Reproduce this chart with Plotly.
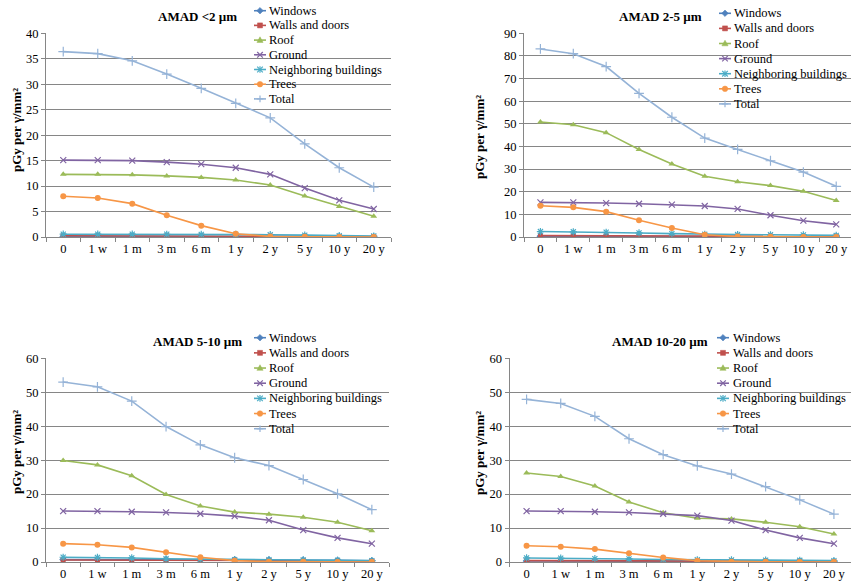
import plotly.graph_objects as go

# ---------------- data ----------------
categories = ["0", "1 w", "1 m", "3 m", "6 m", "1 y", "2 y", "5 y", "10 y", "20 y"]
series_names = ["Windows", "Walls and doors", "Roof", "Ground",
                "Neighboring buildings", "Trees", "Total"]
panel_titles = ["AMAD &lt;2 µm", "AMAD 2-5 µm", "AMAD 5-10 µm", "AMAD 10-20 µm"]
y_ticks_p1 = [0, 5, 10, 15, 20, 25, 30, 35, 40]
y_ticks_p2 = [0, 10, 20, 30, 40, 50, 60, 70, 80, 90]
y_ticks_p34 = [0, 10, 20, 30, 40, 50, 60]

# AMAD <2 um
p1_windows = [0.12, 0.12, 0.12, 0.11, 0.11, 0.10, 0.09, 0.07, 0.05, 0.03]
p1_walls = [0.25, 0.25, 0.25, 0.24, 0.23, 0.22, 0.20, 0.16, 0.12, 0.08]
p1_roof = [12.3, 12.3, 12.2, 12.0, 11.7, 11.2, 10.2, 8.05, 6.0, 4.06]
p1_ground = [15.1, 15.1, 15.0, 14.7, 14.3, 13.6, 12.3, 9.6, 7.2, 5.5]
p1_neigh = [0.55, 0.55, 0.55, 0.54, 0.52, 0.50, 0.45, 0.36, 0.27, 0.20]
p1_trees = [8.0, 7.66, 6.55, 4.26, 2.23, 0.65, 0.10, 0.05, 0.02, 0.01]
p1_total = [36.4, 36.0, 34.6, 32.0, 29.2, 26.25, 23.4, 18.3, 13.6, 9.8]

# AMAD 2-5 um
p2_windows = [0.35, 0.35, 0.34, 0.33, 0.32, 0.30, 0.28, 0.24, 0.20, 0.15]
p2_walls = [0.6, 0.6, 0.6, 0.58, 0.56, 0.52, 0.48, 0.42, 0.36, 0.28]
p2_roof = [50.8, 49.6, 46.1, 38.7, 32.3, 26.8, 24.4, 22.7, 20.2, 16.1]
p2_ground = [15.3, 15.3, 15.0, 14.7, 14.3, 13.7, 12.4, 9.6, 7.2, 5.6]
p2_neigh = [2.4, 2.3, 2.1, 1.8, 1.5, 1.2, 1.1, 1.0, 0.9, 0.7]
p2_trees = [13.8, 13.1, 11.2, 7.4, 4.0, 1.0, 0.2, 0.1, 0.05, 0.02]
p2_total = [83.1, 81.0, 75.3, 63.5, 52.9, 43.7, 38.7, 33.7, 28.7, 22.4]

# AMAD 5-10 um
p3_windows = [0.7, 0.7, 0.7, 0.68, 0.66, 0.64, 0.60, 0.55, 0.48, 0.35]
p3_walls = [0.6, 0.6, 0.6, 0.58, 0.55, 0.50, 0.45, 0.38, 0.30, 0.20]
p3_roof = [29.9, 28.6, 25.4, 19.9, 16.5, 14.7, 14.1, 13.2, 11.7, 9.2]
p3_ground = [15.0, 15.0, 14.8, 14.6, 14.2, 13.5, 12.3, 9.4, 7.1, 5.4]
p3_neigh = [1.4, 1.35, 1.2, 0.95, 0.8, 0.7, 0.65, 0.6, 0.5, 0.4]
p3_trees = [5.4, 5.1, 4.3, 2.85, 1.4, 0.4, 0.1, 0.05, 0.02, 0.01]
p3_total = [53.0, 51.6, 47.4, 39.9, 34.5, 30.7, 28.4, 24.3, 20.1, 15.4]

# AMAD 10-20 um
p4_windows = [0.3, 0.3, 0.3, 0.29, 0.28, 0.27, 0.25, 0.22, 0.18, 0.13]
p4_walls = [0.4, 0.4, 0.4, 0.39, 0.37, 0.35, 0.32, 0.27, 0.22, 0.15]
p4_roof = [26.2, 25.2, 22.4, 17.7, 14.5, 12.9, 12.7, 11.7, 10.4, 8.25]
p4_ground = [15.0, 15.0, 14.8, 14.6, 14.2, 13.65, 12.2, 9.4, 7.1, 5.4]
p4_neigh = [1.2, 1.15, 1.0, 0.9, 0.75, 0.65, 0.6, 0.55, 0.5, 0.4]
p4_trees = [4.8, 4.5, 3.8, 2.55, 1.35, 0.35, 0.1, 0.05, 0.02, 0.01]
p4_total = [47.9, 46.7, 42.9, 36.3, 31.6, 28.3, 25.9, 22.2, 18.3, 14.1]

panels_data = [
    [p1_windows, p1_walls, p1_roof, p1_ground, p1_neigh, p1_trees, p1_total],
    [p2_windows, p2_walls, p2_roof, p2_ground, p2_neigh, p2_trees, p2_total],
    [p3_windows, p3_walls, p3_roof, p3_ground, p3_neigh, p3_trees, p3_total],
    [p4_windows, p4_walls, p4_roof, p4_ground, p4_neigh, p4_trees, p4_total],
]

# ---------------- style ----------------
W, H = 851, 588
FONT = "Liberation Serif"
GRID = "#868686"
colors = ["#4F81BD", "#C0504D", "#9BBB59", "#8064A2", "#4BACC6", "#F79646", "#95B3D7"]
symbols = ["diamond", "square", "triangle-up", "x-thin-open", "asterisk-open", "circle", "cross-thin-open"]
msizes = [6, 5, 6, 6, 6, 6, 7]
legend_kind = ["diamond", "square", "triangle", "x", "star", "circle", "plus"]


def px(x):
    return x / W


def py(y):
    return 1 - y / H


# panel geometry in pixels: (left, right, top, bottom, xrange_max)
panel_geom = [
    (46, 391, 33.3, 237, 9.5),
    (524, 851, 33.3, 237, 9.45),
    (46, 389, 358.3, 562, 9.5),
    (509.5, 851, 358.3, 562, 9.5),
]
yticks = [y_ticks_p1, y_ticks_p2, y_ticks_p34, y_ticks_p34]
title_pos = [(197, 16), (660, 16), (197, 341), (660, 341)]
ytitle_pos = [(16, 130), (479, 137), (16, 452), (479, 453)]
# legend: key centre x, text x, first row y, row step, white box (x0, x1, y0, y1)
legend_geom = [
    (260, 267, 10.7, 14.7, (252, 392, 2, 106)),
    (725, 732, 13.3, 15.1, (717, 851, 2, 111)),
    (260, 267, 337.7, 15.17, (252, 392, 327, 436)),
    (723, 731, 337.7, 15.17, (715, 851, 327, 436)),
]

fig = go.Figure()
layout = dict(
    width=W, height=H, margin=dict(l=0, r=0, t=0, b=0, pad=0, autoexpand=False),
    paper_bgcolor="white", plot_bgcolor="white", showlegend=False,
    font=dict(family=FONT, size=12.5, color="#000000"),
)
shapes = []
annotations = []

for p in range(4):
    sfx = "" if p == 0 else str(p + 1)
    xa, ya = "x" + sfx, "y" + sfx
    left, right, top, bottom, xmax = panel_geom[p]
    tv = yticks[p]
    layout["xaxis" + sfx] = dict(
        domain=[px(left), px(right)], anchor=ya, type="category",
        categoryorder="array", categoryarray=categories,
        range=[-0.5, xmax], showgrid=False, zeroline=False, automargin=False,
        showline=True, linecolor=GRID, linewidth=1,
        ticks="outside", tickson="boundaries", ticklen=4, tickcolor=GRID,
        tickfont=dict(family=FONT, size=12.5, color="#000"), fixedrange=True,
    )
    layout["yaxis" + sfx] = dict(
        domain=[py(bottom), py(top)], anchor=xa, range=[0, tv[-1]], automargin=False,
        tickvals=tv, showgrid=True, gridcolor=GRID, gridwidth=1, zeroline=False,
        showline=True, linecolor=GRID, linewidth=1,
        ticks="outside", ticklen=4, tickcolor=GRID,
        tickfont=dict(family=FONT, size=12.5, color="#000"), fixedrange=True,
    )
    for i, name in enumerate(series_names):
        fig.add_trace(go.Scatter(
            x=categories, y=panels_data[p][i], name=name, mode="lines+markers",
            xaxis=xa, yaxis=ya,
            line=dict(color=colors[i], width=1.6),
            marker=dict(symbol=symbols[i], size=msizes[i], color=colors[i],
                        line=dict(color=colors[i], width=1.2 if "open" in symbols[i] else 0)),
        ))
    # title
    tx, ty = title_pos[p]
    annotations.append(dict(x=px(tx), y=py(ty), xref="paper", yref="paper",
                            text="<b>" + panel_titles[p] + "</b>", showarrow=False,
                            xanchor="center", yanchor="middle",
                            font=dict(family=FONT, size=13, color="#000")))
    # y-axis title
    yx, yy = ytitle_pos[p]
    annotations.append(dict(x=px(yx), y=py(yy), xref="paper", yref="paper",
                            text="<b>pGy per γ/mm²</b>", showarrow=False, textangle=-90,
                            xanchor="center", yanchor="middle",
                            font=dict(family=FONT, size=13, color="#000")))
    # legend
    kx, txt_x, ly0, lstep, box = legend_geom[p]
    shapes.append(dict(type="rect", xref="paper", yref="paper", layer="between",
                       x0=px(box[0]), x1=px(box[1]), y0=py(box[3]), y1=py(box[2]),
                       fillcolor="white", line=dict(width=0)))
    for i, name in enumerate(series_names):
        cy = ly0 + i * lstep
        c = colors[i]
        shapes.append(dict(type="line", xref="paper", yref="paper",
                           x0=px(kx - 6), x1=px(kx + 6), y0=py(cy), y1=py(cy),
                           line=dict(color=c, width=1.6)))
        r = 2.8
        k = legend_kind[i]
        if k == "diamond":
            path = "M{},{} L{},{} L{},{} L{},{} Z".format(
                px(kx), py(cy - r - 0.5), px(kx + r + 0.5), py(cy), px(kx), py(cy + r + 0.5), px(kx - r - 0.5), py(cy))
            shapes.append(dict(type="path", xref="paper", yref="paper", path=path,
                               fillcolor=c, line=dict(color=c, width=0.5)))
        elif k == "square":
            shapes.append(dict(type="rect", xref="paper", yref="paper",
                               x0=px(kx - 2.5), x1=px(kx + 2.5), y0=py(cy + 2.5), y1=py(cy - 2.5),
                               fillcolor=c, line=dict(color=c, width=0.5)))
        elif k == "triangle":
            path = "M{},{} L{},{} L{},{} Z".format(
                px(kx), py(cy - r - 0.5), px(kx + r + 0.3), py(cy + r - 0.5), px(kx - r - 0.3), py(cy + r - 0.5))
            shapes.append(dict(type="path", xref="paper", yref="paper", path=path,
                               fillcolor=c, line=dict(color=c, width=0.5)))
        elif k == "circle":
            shapes.append(dict(type="circle", xref="paper", yref="paper",
                               x0=px(kx - r), x1=px(kx + r), y0=py(cy + r), y1=py(cy - r),
                               fillcolor=c, line=dict(color=c, width=0.5)))
        else:
            segs = []
            if k in ("x", "star"):
                segs += [(kx - r, cy - r, kx + r, cy + r), (kx - r, cy + r, kx + r, cy - r)]
            if k in ("plus", "star"):
                segs += [(kx, cy - r - 0.5, kx, cy + r + 0.5)]
            if k == "plus":
                segs += [(kx - r - 0.5, cy, kx + r + 0.5, cy)]
            for (a, b, cc, d) in segs:
                shapes.append(dict(type="line", xref="paper", yref="paper",
                                   x0=px(a), y0=py(b), x1=px(cc), y1=py(d),
                                   line=dict(color=c, width=1.2)))
        annotations.append(dict(x=px(txt_x), y=py(cy), xref="paper", yref="paper",
                                text=name, showarrow=False, xanchor="left", yanchor="middle",
                                font=dict(family=FONT, size=12.5, color="#000")))

layout["shapes"] = shapes
layout["annotations"] = annotations
fig.update_layout(**layout)
fig.write_html("out.html", config={"displayModeBar": False},
               post_script="document.body.style.margin='0';document.body.style.padding='0';")
